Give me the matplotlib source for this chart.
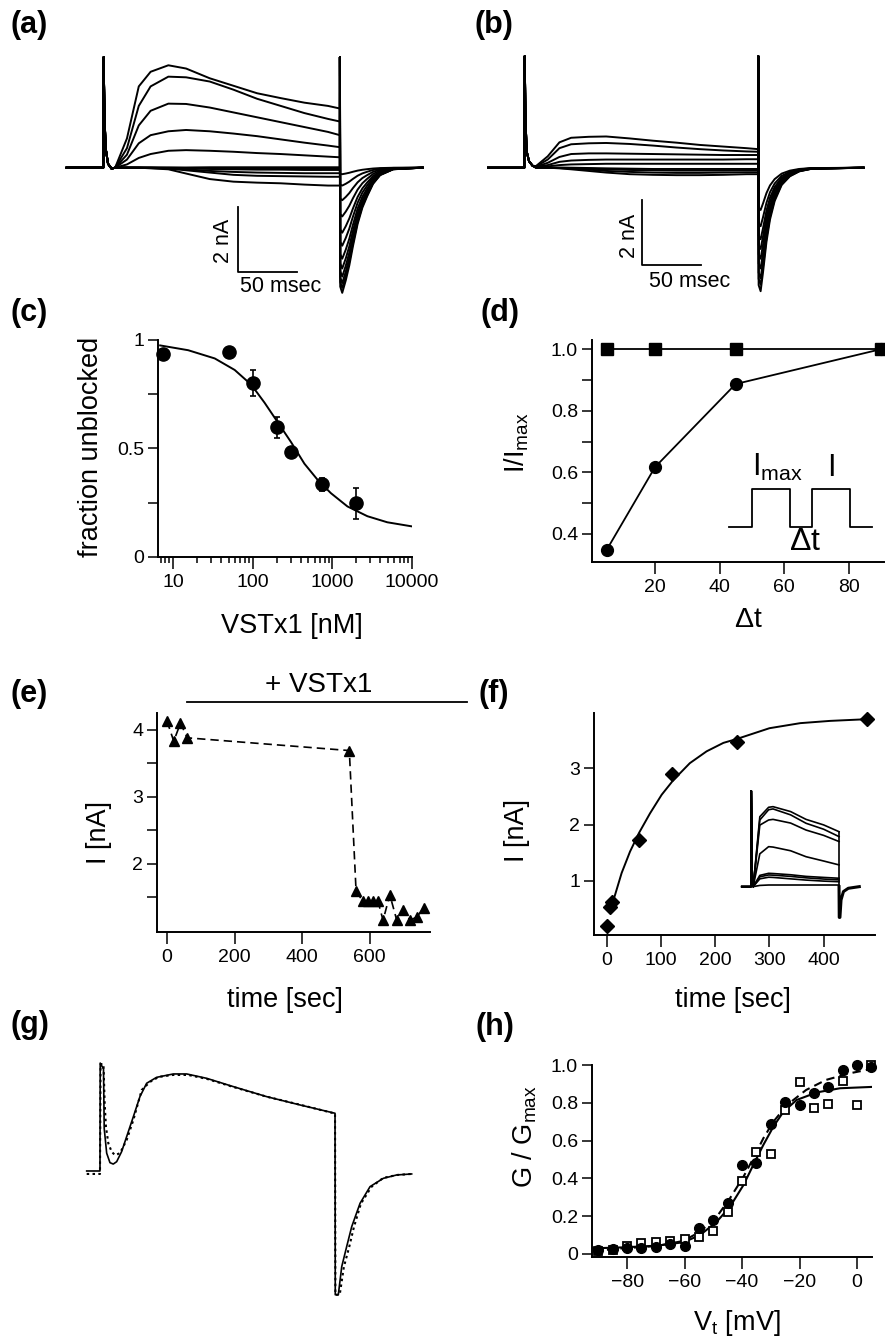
import matplotlib
matplotlib.use('Agg')
import matplotlib.pyplot as plt

plt.rcParams['font.family'] = ['Liberation Sans', 'DejaVu Sans']
plt.rcParams['mathtext.fontset'] = 'custom'
plt.rcParams['mathtext.rm'] = 'Liberation Sans'
plt.rcParams['mathtext.it'] = 'Liberation Sans:italic'

# ---- (a) control traces: current [nA] at body_t [ms] ----
body_t = [10, 20, 30, 40, 55, 70, 90, 110, 130, 150, 170, 190, 200]
spike_t = [0, 0.3, 1, 2, 4, 7]
spike_i = [0, 3.4, 1.6, 0.6, 0.12, -0.03]
a_currents = [
    [0.0, 0.9, 2.5, 2.95, 3.15, 3.05, 2.75, 2.52, 2.29, 2.14, 2.0, 1.90, 1.82],
    [0.0, 0.6, 1.9, 2.5, 2.80, 2.78, 2.65, 2.40, 2.12, 1.90, 1.68, 1.50, 1.42],
    [0.0, 0.4, 1.3, 1.75, 1.97, 1.96, 1.85, 1.70, 1.55, 1.40, 1.25, 1.10, 1.0],
    [0.0, 0.25, 0.75, 1.0, 1.12, 1.16, 1.12, 1.05, 0.97, 0.87, 0.77, 0.68, 0.63],
    [0.0, 0.1, 0.3, 0.42, 0.52, 0.54, 0.52, 0.49, 0.45, 0.42, 0.38, 0.34, 0.32],
    [0, 0, 0, -0.02, -0.05, -0.18, -0.35, -0.43, -0.46, -0.48, -0.52, -0.55, -0.55],
    [0, 0, 0, -0.01, -0.03, -0.08, -0.15, -0.22, -0.25, -0.26, -0.27, -0.28, -0.28],
    [0, 0, 0, 0, -0.02, -0.05, -0.10, -0.13, -0.15, -0.16, -0.17, -0.17, -0.17],
    [0, 0, 0, 0, -0.01, -0.02, -0.04, -0.05, -0.06, -0.06, -0.07, -0.07, -0.07],
    [0, 0, 0, 0, 0, -0.01, -0.02, -0.02, -0.03, -0.03, -0.03, -0.03, -0.03],
    [0, 0, 0, 0, 0, 0, 0, 0, 0, 0, 0, 0, 0],
    [0, 0, 0, 0, 0, 0, 0.01, 0.01, 0.01, 0.01, 0.01, 0.01, 0.01],
]
a_tail_min = [-3.85, -3.7, -3.55, -3.35, -3.1, -2.8, -2.4, -2.0, -1.5, -1.0, -0.55, -0.2]
a_tail_dt = [0.3, 2, 5, 8, 11, 15, 19, 23, 28, 34, 45, 70]
a_tail_frac = [0.95, 1.0, 0.9, 0.78, 0.63, 0.45, 0.32, 0.23, 0.13, 0.06, 0.013, 0]

# ---- (b) traces with VSTx1 ----
b_currents = [
    [0.05, 0.35, 0.78, 0.92, 0.95, 0.96, 0.9, 0.83, 0.77, 0.70, 0.65, 0.60, 0.57],
    [0.04, 0.25, 0.6, 0.72, 0.75, 0.76, 0.73, 0.68, 0.62, 0.57, 0.53, 0.50, 0.49],
    [0.03, 0.15, 0.33, 0.42, 0.44, 0.44, 0.43, 0.42, 0.41, 0.40, 0.39, 0.39, 0.39],
    [0.02, 0.08, 0.18, 0.22, 0.24, 0.25, 0.25, 0.25, 0.25, 0.25, 0.25, 0.26, 0.26],
    [0.01, 0.04, 0.08, 0.1, 0.11, 0.12, 0.12, 0.12, 0.12, 0.12, 0.12, 0.12, 0.12],
    [0, 0, -0.02, -0.05, -0.1, -0.15, -0.2, -0.22, -0.23, -0.23, -0.22, -0.2, -0.2],
    [0, 0, -0.01, -0.03, -0.06, -0.1, -0.13, -0.15, -0.16, -0.16, -0.15, -0.14, -0.14],
    [0, 0, 0, -0.01, -0.03, -0.05, -0.07, -0.08, -0.09, -0.09, -0.09, -0.08, -0.08],
    [0, 0, 0, 0, -0.01, -0.02, -0.03, -0.04, -0.04, -0.04, -0.04, -0.04, -0.04],
]
b_spike_i = [0, 3.43, 1.5, 0.5, 0.2, 0.06]
b_tail_min = [-3.8, -3.6, -3.4, -3.1, -2.8, -2.5, -2.2, -1.8, -1.3]
b_tail_dt = [0.3, 2, 4, 7, 10, 14, 20, 27, 35, 45, 90]
b_tail_frac = [0.95, 1.0, 0.85, 0.6, 0.42, 0.27, 0.14, 0.07, 0.03, 0.01, 0]

# ---- (c) dose response ----
c_conc = [7.5, 50, 100, 200, 300, 750, 2000]
c_frac = [0.935, 0.946, 0.80, 0.597, 0.485, 0.335, 0.247]
c_err = [0.0, 0.02, 0.06, 0.05, 0.02, 0.03, 0.07]
c_fit_logx = [0.84, 1.191, 1.525, 1.775, 1.983, 2.15, 2.317, 2.483, 2.65, 2.817,
              2.983, 3.19, 3.44, 3.69, 4.0]
c_fit_y = [0.975, 0.953, 0.915, 0.862, 0.794, 0.711, 0.62, 0.529, 0.43, 0.355,
           0.294, 0.233, 0.188, 0.16, 0.141]

# ---- (d) recovery ----
d_dt = [5, 20, 45, 90]
d_ctrl = [1.0, 1.0, 1.0, 1.0]
d_ctrl_err = [0.01, 0.01, 0.01, 0.01]
d_tox = [0.348, 0.617, 0.887, 1.0]
d_tox_err = [0.012, 0.012, 0.015, 0.01]
pulse_x = [42.9, 50.1, 50.1, 61.9, 61.9, 68.7, 68.7, 80.5, 80.5, 87.3]
pulse_y = [0.423, 0.423, 0.546, 0.546, 0.423, 0.423, 0.546, 0.546, 0.423, 0.423]

# ---- (e) block time course ----
e_time = [0, 20, 40, 60, 540, 560, 580, 595, 610, 625, 640, 660, 680, 700, 720, 740, 760]
e_curr = [4.13, 3.83, 4.10, 3.88, 3.69, 1.60, 1.44, 1.44, 1.44, 1.44, 1.16, 1.54,
          1.17, 1.31, 1.16, 1.21, 1.34]
vstx_start = 60

# ---- (f) washout ----
f_time = [0, 5, 10, 60, 120, 240, 480]
f_curr = [0.20, 0.53, 0.62, 1.73, 2.90, 3.47, 3.87]
f_fit_t = [5.5, 14.8, 27, 42.5, 59, 79.5, 101, 122.6, 153, 184, 215, 240, 300, 357, 412, 480]
f_fit_i = [0.485, 0.75, 1.14, 1.52, 1.85, 2.20, 2.53, 2.79, 3.09, 3.30, 3.45, 3.52,
           3.71, 3.80, 3.84, 3.87]
ins_t = [5, 20, 40, 50, 90, 125, 165, 200]
ins_currents = [
    [0, 3.41, 3.87, 3.90, 3.66, 3.28, 3.01, 2.68],
    [0, 3.25, 3.75, 3.79, 3.5, 3.09, 2.8, 2.44],
    [0, 3.0, 3.25, 3.28, 3.1, 2.76, 2.5, 2.2],
    [0, 1.6, 1.95, 1.93, 1.75, 1.46, 1.25, 1.06],
    [0, 0.55, 0.65, 0.64, 0.58, 0.5, 0.45, 0.41],
    [0, 0.48, 0.57, 0.56, 0.5, 0.43, 0.37, 0.33],
    [0, 0.38, 0.46, 0.45, 0.38, 0.32, 0.27, 0.24],
    [0, 0.06, 0.08, 0.08, 0.08, 0.08, 0.08, 0.08],
]
ins_tail_t = [200.5, 202, 204.5, 210, 221, 246]
ins_tail_i = [-1.5, -1.5, -0.65, -0.24, -0.08, 0]

# ---- (g) model (solid) vs data (dotted), normalized ----
g_fit_t = [-11.3, 0, 0.2, 3.0, 3.6, 5.7, 8.5, 11.3, 14.2, 18.4, 22.7, 28.4, 34.0, 39.7,
           48.2, 62.4, 73.8, 90.8, 113.5, 141.8, 170.2, 200.0, 200.2, 202.8, 205.7,
           209.9, 214.2, 221.3, 229.8, 241.1, 252.5, 265.2]
g_fit_i = [0.02, 0.02, 1.11, 1.05, 0.45, 0.20, 0.104, 0.09, 0.114, 0.215, 0.367, 0.569,
           0.771, 0.906, 0.966, 1.0, 1.0, 0.956, 0.872, 0.771, 0.687, 0.603, -1.23,
           -1.23, -0.946, -0.744, -0.542, -0.306, -0.138, -0.054, -0.020, -0.010]
g_dat_t = [-11.3, 0, 0.5, 3.0, 4.0, 5.1, 7.1, 9.9, 12.8, 17.0, 22.7, 28.4, 35.5, 42.6, 50,
           62, 75, 91, 113, 142, 170, 200, 200.3, 204, 207.5, 212, 216, 222, 231, 241,
           253, 265]
g_dat_i = [-0.01, -0.01, 1.10, 1.10, 0.7, 0.465, 0.30, 0.215, 0.18, 0.20, 0.333, 0.535,
           0.838, 0.92, 0.97, 0.99, 0.99, 0.95, 0.87, 0.77, 0.69, 0.60, -1.23, -1.23,
           -0.95, -0.75, -0.55, -0.31, -0.14, -0.05, -0.02, -0.01]

# ---- (h) G-V ----
h_v = [-90, -85, -80, -75, -70, -65, -60, -55, -50, -45, -40, -35, -30, -25, -20, -15,
       -10, -5, 0, 5]
h_ctrl = [0.021, 0.026, 0.03, 0.03, 0.035, 0.051, 0.044, 0.136, 0.18, 0.271, 0.471,
          0.48, 0.688, 0.806, 0.788, 0.85, 0.885, 0.974, 1.0, 0.991]
h_tox = [0.018, 0.022, 0.044, 0.056, 0.062, 0.071, 0.079, 0.092, 0.123, 0.224, 0.388,
         0.541, 0.529, 0.762, 0.912, 0.771, 0.792, 0.915, 0.788, 1.0]
h_fit_v = [-91.7, -81.3, -69.7, -60.4, -54.6, -48.8, -44.2, -39.5, -36.1, -32.6, -29.1,
           -25.6, -21.0, -14.0, -5.9, 5.1]
h_fit_solid = [0.030, 0.035, 0.044, 0.062, 0.10, 0.171, 0.25, 0.365, 0.471, 0.577,
               0.674, 0.753, 0.815, 0.855, 0.877, 0.884]
h_fit2_v = [-91.7, -81.3, -69.7, -60.4, -54.6, -48.8, -44.2, -39.5, -36.1, -32.6, -29.1,
            -24.4, -17.7, -10.8, -2.6, 5.1]
h_fit_dash = [0.016, 0.030, 0.042, 0.069, 0.118, 0.197, 0.295, 0.409, 0.506, 0.612,
              0.70, 0.788, 0.868, 0.921, 0.956, 0.979]

W, H = 885, 1343
fig = plt.figure(figsize=(W / 100, H / 100), dpi=100)

TICK = 14
LAB = 19.5


def px_axes(x0, y0, x1, y1):
    return fig.add_axes([x0 / W, 1 - y1 / H, (x1 - x0) / W, (y1 - y0) / H])


def style(ax):
    for s in ['top', 'right']:
        ax.spines[s].set_visible(False)
    for s in ['left', 'bottom']:
        ax.spines[s].set_linewidth(1.4)
    ax.tick_params(which='both', direction='out', width=1.1, labelsize=TICK)
    ax.tick_params(which='major', length=7, pad=3)
    ax.tick_params(which='minor', length=7)


def panel_label(x, y, s):
    fig.text(x / W, 1 - y / H, s, fontsize=22, fontweight='bold', ha='left', va='center')


def trace(ax, pre, body_t, body_i, sp_i, end_t, tail_dt, tail_frac, tmin, end_top, lw=1.4):
    t = [pre, 0] + spike_t + body_t + [end_t + d for d in [0.05] + tail_dt]
    y = [0, 0] + sp_i + body_i + [end_top] + [tmin * f for f in tail_frac]
    ax.plot(t, y, color='black', lw=lw, solid_joinstyle='round')


# ---------- (a) ----------
axa = px_axes(60, 50, 430, 300)
axa.set_xlim(-36.6, 276.2)
axa.set_ylim(-4.07, 3.62)
axa.axis('off')
for cur, tm in zip(a_currents, a_tail_min):
    trace(axa, -31, body_t, cur, spike_i, 200, a_tail_dt, a_tail_frac, tm, 3.4)
axa.plot([114, 114, 164], [-1.21, -3.21, -3.21], color='black', lw=1.3)
axa.text(101.6, -2.25, '2 nA', rotation=90, ha='center', va='center', fontsize=15.5)
axa.text(150, -3.66, '50 msec', ha='center', va='center', fontsize=15.5)
panel_label(11, 25, '(a)')

# ---------- (b) ----------
axb = px_axes(480, 50, 870, 300)
axb.set_xlim(-37.9, 295.5)
axb.set_ylim(-4.07, 3.62)
axb.axis('off')
for cur, tm in zip(b_currents, b_tail_min):
    trace(axb, -31, body_t, cur, b_spike_i, 200, b_tail_dt, b_tail_frac, tm, 3.43)
axb.plot([100.6, 100.6, 150.6], [-1.0, -3.0, -3.0], color='black', lw=1.3)
axb.text(89.9, -2.1, '2 nA', rotation=90, ha='center', va='center', fontsize=15.5)
axb.text(141, -3.5, '50 msec', ha='center', va='center', fontsize=15.5)
panel_label(474, 25, '(b)')

# ---------- (c) ----------
axc = px_axes(158, 340, 412, 557)
style(axc)
axc.set_xscale('log')
axc.set_xlim(6.5, 10000)
axc.set_ylim(0, 1)
axc.plot([10 ** v for v in c_fit_logx], c_fit_y, color='black', lw=1.4)
axc.errorbar(c_conc, c_frac, yerr=c_err, fmt='o', color='black', ms=9.5, capsize=2.5,
             elinewidth=1.2, capthick=1.2, clip_on=False)
axc.set_yticks([0, 0.5, 1])
axc.set_yticklabels(['0', '0.5', '1'])
axc.set_yticks([0.25, 0.75], minor=True)
axc.set_xticks([10, 100, 1000, 10000])
axc.set_xticklabels(['10', '100', '1000', '10000'])
axc.tick_params(axis='x', which='minor', length=4.5)
axc.tick_params(axis='x', which='major', length=8.5, pad=4)
fig.text(91 / W, 1 - 447 / H, 'fraction unblocked', rotation=90, ha='center', va='center',
         fontsize=LAB)
fig.text(292 / W, 1 - 626 / H, 'VSTx1 [nM]', ha='center', va='center', fontsize=LAB)
panel_label(11, 313, '(c)')

# ---------- (d) ----------
axd = px_axes(592, 340, 884, 562)
style(axd)
axd.set_xlim(0.47, 91)
axd.set_ylim(0.309, 1.03)
axd.errorbar(d_dt, d_ctrl, yerr=d_ctrl_err, fmt='-s', color='black', ms=8, lw=1.3,
             capsize=2, clip_on=False)
axd.errorbar(d_dt, d_tox, yerr=d_tox_err, fmt='-o', color='black', ms=8.5, lw=1.3,
             capsize=2, clip_on=False)
axd.plot(pulse_x, pulse_y, color='black', lw=1.3)
axd.text(50.1, 0.588, r'I$_\mathregular{max}$', fontsize=22, ha='left', va='baseline')
axd.text(74.6, 0.588, 'I', fontsize=22, ha='center', va='baseline')
axd.text(66.5, 0.374, r'$\Delta$t', fontsize=23, ha='center', va='center')
axd.set_yticks([0.4, 0.6, 0.8, 1.0])
axd.set_yticklabels(['0.4', '0.6', '0.8', '1.0'])
axd.set_yticks([0.5, 0.7, 0.9], minor=True)
axd.set_xticks([20, 40, 60, 80])
axd.tick_params(axis='x', length=8.5, pad=4)
fig.text(517 / W, 1 - 443 / H, r'I/I$_\mathregular{max}$', rotation=90, ha='center',
         va='center', fontsize=LAB)
fig.text(748 / W, 1 - 620 / H, r'$\Delta$t', ha='center', va='center', fontsize=LAB + 1)
panel_label(480, 313, '(d)')

# ---------- (e) ----------
axe = px_axes(157, 713, 430, 932)
style(axe)
axe.set_xlim(-29.6, 779)
axe.set_ylim(0.985, 4.25)
axe.plot(e_time, e_curr, '--^', color='black', ms=7, lw=1.2, dashes=(5, 3), clip_on=False)
axe.plot([vstx_start, 890], [4.42, 4.42], color='black', lw=1.3, clip_on=False)
axe.text(449, 4.67, '+ VSTx1', ha='center', va='center', fontsize=LAB + 0.5)
axe.set_yticks([2, 3, 4])
axe.set_yticks([1.5, 2.5, 3.5], minor=True)
axe.set_xticks([0, 200, 400, 600])
axe.tick_params(axis='x', length=8.5, pad=4)
fig.text(99 / W, 1 - 832 / H, 'I [nA]', rotation=90, ha='center', va='center', fontsize=LAB)
fig.text(285 / W, 1 - 1000 / H, 'time [sec]', ha='center', va='center', fontsize=LAB)
panel_label(11, 694, '(e)')

# ---------- (f) ----------
axf = px_axes(594, 713, 875, 935)
style(axf)
axf.set_xlim(-24, 495)
axf.set_ylim(0.041, 3.98)
axf.plot(f_fit_t, f_fit_i, color='black', lw=1.4)
axf.plot(f_time, f_curr, 'D', color='black', ms=7.5, clip_on=False)
axf.set_yticks([1, 2, 3])
axf.set_xticks([0, 100, 200, 300, 400])
axf.tick_params(axis='x', length=8.5, pad=4)
fig.text(517 / W, 1 - 830 / H, 'I [nA]', rotation=90, ha='center', va='center', fontsize=LAB)
fig.text(733 / W, 1 - 1000 / H, 'time [sec]', ha='center', va='center', fontsize=LAB)
panel_label(478, 694, '(f)')

axi = px_axes(735, 780, 865, 925)
axi.set_xlim(-36.4, 259)
axi.set_ylim(-1.87, 5.2)
axi.axis('off')
for cur in ins_currents:
    axi.plot([-21, 0, 0.5, 3] + ins_t + [200], [0, 0, 4.67, 0.1] + cur + [cur[-1]],
             color='black', lw=1.2)
axi.plot([200] + ins_tail_t, [0] + ins_tail_i, color='black', lw=2.2)
axi.plot([200, 200], [ins_currents[0][-1], 0], color='black', lw=1.2)

# ---------- (g) ----------
axg = px_axes(80, 1050, 420, 1310)
axg.set_xlim(-17, 272.3)
axg.set_ylim(-1.384, 1.242)
axg.axis('off')
axg.plot(g_fit_t, g_fit_i, color='black', lw=1.2)
axg.plot(g_dat_t, g_dat_i, color='black', lw=1.5, dashes=(1.2, 1.6))
panel_label(11, 1025, '(g)')

# ---------- (h) ----------
axh = px_axes(592, 1065, 872, 1257)
style(axh)
axh.set_xlim(-92.2, 5.2)
axh.set_ylim(-0.016, 1.0)
axh.plot(h_fit_v, h_fit_solid, color='black', lw=1.5)
axh.plot(h_fit2_v, h_fit_dash, color='black', lw=1.5, dashes=(4, 2.5))
axh.plot(h_v, h_tox, 's', mfc='white', mec='black', mew=1.3, ms=6, clip_on=False)
axh.plot(h_v, h_ctrl, 'o', color='black', ms=7, clip_on=False)
axh.set_yticks([0, 0.2, 0.4, 0.6, 0.8, 1.0])
axh.set_yticklabels(['0', '0.2', '0.4', '0.6', '0.8', '1.0'])
axh.set_xticks([-80, -60, -40, -20, 0])
axh.tick_params(axis='x', length=8.5, pad=4)
fig.text(525 / W, 1 - 1137 / H, r'G / G$_\mathregular{max}$', rotation=90, ha='center',
         va='center', fontsize=LAB)
fig.text(737 / W, 1 - 1323 / H, r'V$_\mathregular{t}$ [mV]', ha='center', va='center',
         fontsize=LAB)
panel_label(475, 1027, '(h)')

fig.savefig('out.png', dpi=100)
